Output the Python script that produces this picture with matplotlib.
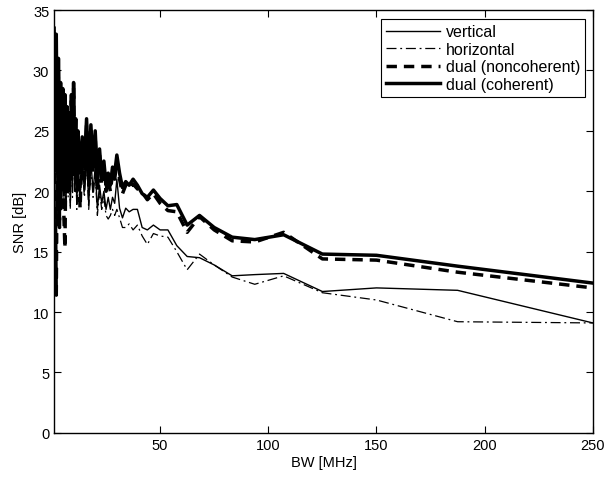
import matplotlib
matplotlib.use("Agg")
import matplotlib.pyplot as plt

plt.rcParams['font.family'] = ['Liberation Sans', 'DejaVu Sans']

# bandwidth values [MHz]
bw = [1, 1.5, 2, 2.5, 3, 3.5, 4, 4.5, 5, 5.5, 6, 6.5, 7, 7.5, 8, 8.5, 9, 9.5,
      10, 10.5, 11, 11.5, 12, 13, 14, 15, 16, 17, 18, 19, 20, 21, 22, 23, 24,
      25, 26, 27, 28, 29, 30, 31.25, 32.6, 34.1, 35.7, 37.5, 39.5, 41.7, 44.1,
      46.9, 50, 53.6, 57.7, 62.5, 68.2, 75, 83.3, 93.75, 107.1, 125, 150,
      187.5, 250]

snr_vertical = [31, 22, 30, 19, 28, 17.3, 26, 19, 25, 20, 24, 19.5, 24, 20, 23,
                19, 25, 20, 26, 20.5, 23, 19, 22, 19.5, 22.5, 20, 23, 19, 22.5,
                20, 22, 18.5, 20.5, 19, 20, 18.5, 19.5, 18.5, 19.5, 19, 21,
                18.6, 17.8, 18.6, 18.3, 18.5, 18.5, 17.0, 16.8, 17.2, 16.8,
                16.8, 15.5, 14.6, 14.5, 13.9, 13.0, 13.1, 13.2, 11.7, 12.0,
                11.8, 9.1]

snr_horizontal = [30, 21, 29, 18, 27, 17, 25, 18.5, 24, 19, 23.5, 18.5, 23,
                  19.5, 22, 18.5, 24, 19.5, 25, 20, 22, 18.5, 21.5, 19, 22,
                  19.5, 22.5, 18.5, 22, 19.5, 21.5, 18, 20, 18.5, 19.5, 18,
                  17.7, 18, 18.5, 18, 18.5, 17.8, 17.0, 17.0, 17.3, 16.8, 17.2,
                  16.3, 15.6, 16.5, 16.3, 16.2, 15.0, 13.5, 14.8, 13.9, 12.9,
                  12.3, 13.0, 11.6, 11.0, 9.2, 9.1]

snr_noncoh = [33, 20, 11.4, 25, 30, 17, 27, 20, 27, 18, 15.3, 24, 26, 20, 25,
              21, 27.5, 21, 28.5, 22, 25, 20, 24, 18.6, 24, 21, 25.5, 20.5, 25,
              21.5, 24.5, 20, 23, 20.5, 22, 20, 21, 20, 21.5, 21, 22.5, 21.0,
              19.8, 20.5, 20.2, 20.6, 20.2, 19.9, 19.3, 19.8, 19.0, 18.4,
              18.3, 16.6, 17.9, 16.8, 15.9, 15.8, 16.6, 14.4, 14.3, 13.3, 12.0]

snr_coh = [33.5, 24, 33, 22, 31, 23, 29, 21, 28.5, 22.5, 28, 21.5, 27, 22,
           26.5, 21, 28, 22, 29, 23, 26, 21, 25, 21.5, 24.5, 22, 26, 21, 25.5,
           22, 25, 21, 23.5, 21, 22.5, 20.5, 21.5, 20.5, 22, 21.5, 23, 21.5,
           20.3, 20.8, 20.5, 21.0, 20.5, 19.8, 19.5, 20.1, 19.4, 18.8, 18.9,
           17.2, 18.0, 17.0, 16.2, 16.0, 16.4, 14.8, 14.7, 13.8, 12.4]

fig = plt.figure(figsize=(6.08, 4.81), dpi=100)
ax = fig.add_axes([0.089, 0.098, 0.886, 0.879])

ax.plot(bw, snr_vertical, 'k-', lw=1.0, label='vertical')
ax.plot(bw, snr_horizontal, 'k', lw=0.9, dashes=(8, 3, 1.5, 3), label='horizontal')
ax.plot(bw, snr_noncoh, 'k--', lw=2.5, dashes=(3, 2), label='dual (noncoherent)')
ax.plot(bw, snr_coh, 'k-', lw=2.5, label='dual (coherent)')

ax.set_xlim(1, 250)
ax.set_ylim(0, 35)
ax.set_xticks([50, 100, 150, 200, 250])
ax.set_yticks(range(0, 36, 5))
ax.tick_params(direction='in', top=True, right=True, labelsize=10.5, length=5)
for s in ax.spines.values():
    s.set_linewidth(1.0)
ax.set_xlabel('BW [MHz]', fontsize=10.5, labelpad=2)
ax.set_ylabel('SNR [dB]', fontsize=10.5, labelpad=4)

leg = ax.legend(loc='upper right', fontsize=11.5, handlelength=3.4,
                fancybox=False, framealpha=1, edgecolor='k',
                bbox_to_anchor=(0.985, 0.978),
                borderaxespad=0.0, labelspacing=0.16, handletextpad=0.35,
                borderpad=0.3)
leg.get_frame().set_linewidth(0.8)

fig.savefig('out.png', dpi=100)
